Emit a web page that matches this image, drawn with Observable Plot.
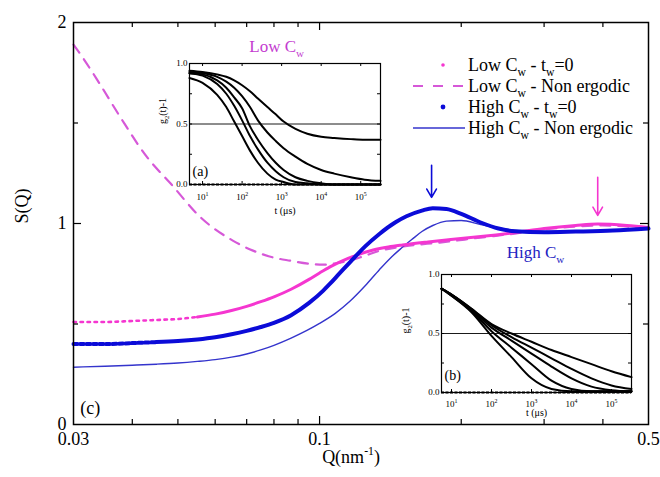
<!DOCTYPE html>
<html><head><meta charset="utf-8">
<script src="https://cdn.jsdelivr.net/npm/d3@7"></script>
<script src="https://cdn.jsdelivr.net/npm/@observablehq/plot@0.6"></script>
<style>
body{margin:0;background:#fff}
#wrap{position:relative;width:660px;height:477px;overflow:hidden;background:#fff}
#wrap svg, #wrap svg text, #wrap svg tspan {font-family:"Liberation Serif","DejaVu Serif",serif !important}
</style>
</head><body><div id="wrap"></div>
<script>
// ---------- main panel (c): S(Q) ----------
const lowT0Q = [0.03,0.035,0.04,0.045,0.05,0.055,0.06,0.065,0.07,0.075,0.08,0.087,0.095,0.1,0.105,0.11,0.12,0.13,0.14,0.15,0.17,0.19,0.22,0.26,0.3,0.35,0.39,0.45,0.5];
const lowT0S = [0.51,0.51,0.515,0.52,0.525,0.535,0.549,0.567,0.588,0.611,0.635,0.673,0.722,0.754,0.783,0.807,0.843,0.868,0.883,0.893,0.908,0.92,0.935,0.955,0.975,0.99,0.997,0.99,0.98];

const lowNeQ = [0.03,0.0315,0.034,0.0377,0.043,0.0482,0.0559,0.0654,0.0722,0.08,0.0866,0.095,0.1017,0.11,0.1159,0.125,0.1344,0.145,0.155,0.18,0.22,0.26,0.3,0.35,0.4,0.45,0.5];
const lowNeS = [1.89,1.82,1.70,1.53,1.33,1.20,1.03,0.915,0.865,0.83,0.815,0.80,0.795,0.805,0.815,0.84,0.865,0.88,0.89,0.905,0.93,0.95,0.97,0.985,0.99,0.985,0.975];

const highT0Q = [0.03,0.035,0.04,0.045,0.05,0.055,0.06,0.065,0.07,0.075,0.08,0.087,0.095,0.1017,0.105,0.11,0.116,0.125,0.134,0.145,0.153,0.165,0.174,0.186,0.2,0.22,0.24,0.26,0.3,0.35,0.42,0.5];
const highT0S = [0.40,0.40,0.405,0.41,0.415,0.423,0.434,0.449,0.466,0.485,0.506,0.544,0.605,0.665,0.698,0.749,0.807,0.886,0.948,1.006,1.036,1.064,1.076,1.072,1.048,1.005,0.975,0.962,0.957,0.96,0.965,0.975];

const highNeQ = [0.03,0.035,0.04,0.045,0.05,0.055,0.06,0.065,0.07,0.075,0.08,0.087,0.094,0.1,0.108,0.116,0.125,0.134,0.141,0.148,0.157,0.165,0.174,0.186,0.2,0.22,0.24,0.26,0.3,0.35,0.42,0.5];
const highNeS = [0.285,0.29,0.295,0.30,0.306,0.314,0.323,0.335,0.351,0.371,0.394,0.43,0.468,0.503,0.553,0.613,0.69,0.77,0.825,0.87,0.92,0.96,0.99,1.012,1.015,0.995,0.978,0.966,0.96,0.962,0.966,0.972];

const xLabelTicks = [0.03, 0.1, 0.5];
const xMinorTicks = [0.04,0.05,0.06,0.07,0.08,0.09,0.2,0.3,0.4];
const xMajorTicks = [0.1];
const yLabelTicks = [0, 1, 2];
const yMinorTicks = [0.5, 1.5];
const yMajorTicks = [1];

const peakArrowBlue = [{q: 0.173, from: 1.29, to: 1.13}];
const peakArrowPink = [{q: 0.39, from: 1.23, to: 1.04}];

const legendLabels = ["Low C_{w} - t_{w}=0", "Low C_{w} - Non ergodic", "High C_{w} - t_{w}=0", "High C_{w} - Non ergodic"];

// ---------- inset (a): Low Cw correlation functions ----------
const tExpA = [0.67,1.0,1.37,1.6,1.8,2.0,2.2,2.4,2.64,2.85,3.05,3.35,3.65,4.0,4.33,4.75,5.1,5.5];
const gA1 = [0.94,0.93,0.91,0.89,0.86,0.82,0.77,0.71,0.64,0.58,0.52,0.46,0.42,0.395,0.385,0.375,0.37,0.37];
const gA2 = [0.93,0.92,0.89,0.85,0.80,0.73,0.64,0.53,0.43,0.36,0.30,0.23,0.17,0.12,0.09,0.06,0.04,0.03];
const gA3 = [0.92,0.91,0.86,0.80,0.72,0.63,0.48,0.37,0.26,0.18,0.12,0.06,0.03,0.01,0.0,0.0,0.0,0.0];
const gA4 = [0.92,0.90,0.83,0.75,0.65,0.53,0.40,0.29,0.18,0.11,0.06,0.02,0.01,0.0,0.0,0.0,0.0,0.0];
const gA5 = [0.88,0.84,0.74,0.64,0.52,0.40,0.28,0.18,0.09,0.04,0.02,0.0,0.0,0.0,0.0,0.0,0.0,0.0];

// ---------- inset (b): High Cw correlation functions ----------
const tExpB = [0.75,1.0,1.5,2.0,2.5,3.0,3.5,4.0,4.5,5.0,5.5];
const gB1 = [0.88,0.82,0.68,0.48,0.30,0.12,0.03,0.01,0.01,0.01,0.01];
const gB2 = [0.88,0.82,0.69,0.52,0.38,0.24,0.10,0.03,0.01,0.01,0.01];
const gB3 = [0.88,0.83,0.70,0.55,0.44,0.33,0.22,0.12,0.05,0.02,0.01];
const gB4 = [0.88,0.83,0.71,0.57,0.47,0.38,0.29,0.20,0.12,0.06,0.03];
const gB5 = [0.88,0.83,0.71,0.58,0.50,0.43,0.36,0.30,0.24,0.18,0.13];

const insetDecades = [10, 100, 1000, 10000, 100000];
const insetYLabels = [0, 0.5, 1];
const insetYTicks = [0.25, 0.5, 0.75];

// ---------- helpers ----------
const FONT = "Liberation Serif, DejaVu Serif, serif";
const PINK = "#f536d0", PINK_DASH = "#d658d8", BLUE = "#0b0bd8", BLUE_THIN = "#3434cc";
const LOW_TXT = "#c43cd0", HIGH_TXT = "#2222c2";

const pts = (qs, ss) => qs.map((q, i) => ({q, s: ss[i]}));
function splitAt(arr, thr) { const k = arr.findIndex(d => d.q >= thr); return [arr.slice(0, k + 1), arr.slice(k)]; }

function richify(root) {
  const ns = "http://www.w3.org/2000/svg";
  root.querySelectorAll("text").forEach(t => {
    const targets = t.querySelector("tspan") ? [...t.querySelectorAll("tspan")] : [t];
    for (const n of targets) {
      const s = n.textContent;
      if (!/[_^]\{/.test(s)) continue;
      n.textContent = "";
      const re = /([_^])\{([^}]*)\}/g;
      let last = 0, m;
      const add = (txt, kind) => {
        const sp = document.createElementNS(ns, "tspan");
        sp.textContent = txt;
        if (kind) {
          sp.setAttribute("font-size", "65%");
          sp.setAttribute("baseline-shift", kind === "_" ? "-0.45em" : "0.65em");
        }
        n.appendChild(sp);
      };
      while ((m = re.exec(s))) { if (m.index > last) add(s.slice(last, m.index)); add(m[2], m[1]); last = re.lastIndex; }
      if (last < s.length) add(s.slice(last));
    }
  });
}

const wrap = document.getElementById("wrap");
const W = 660, H = 477, mL = 73, mR = 12, mT = 22, mB = 53;
const fw = W - mL - mR, fh = H - mT - mB;

const lowT0 = pts(lowT0Q, lowT0S), lowNe = pts(lowNeQ, lowNeS);
const highT0 = pts(highT0Q, highT0S), highNe = pts(highNeQ, highNeS);
const [lowT0a, lowT0b] = splitAt(lowT0, 0.055);
const [highT0a, highT0b] = splitAt(highT0, 0.045);
const cv = "monotone-x";

const main = Plot.plot({
  width: W, height: H, marginLeft: mL, marginRight: mR, marginTop: mT, marginBottom: mB,
  x: {type: "log", domain: [0.03, 0.5]},
  y: {domain: [0, 2]},
  style: {fontFamily: FONT, fontSize: "18px", background: "white", color: "black", overflow: "visible"},
  marks: [
    Plot.line(lowNe, {x: "q", y: "s", stroke: PINK_DASH, strokeWidth: 2.2, strokeDasharray: "10,8", curve: cv}),
    Plot.line(highNe, {x: "q", y: "s", stroke: BLUE_THIN, strokeWidth: 1.4, curve: cv}),
    Plot.line(lowT0a, {x: "q", y: "s", stroke: PINK, strokeWidth: 2.6, strokeDasharray: "2.5,4.5", curve: cv}),
    Plot.line(lowT0b, {x: "q", y: "s", stroke: PINK, strokeWidth: 3, curve: cv}),
    Plot.line(highT0a, {x: "q", y: "s", stroke: BLUE, strokeWidth: 4, strokeDasharray: "4,2.5", curve: cv}),
    Plot.line(highT0b, {x: "q", y: "s", stroke: BLUE, strokeWidth: 4, curve: cv}),
    Plot.arrow(peakArrowBlue, {x1: "q", x2: "q", y1: "from", y2: "to", stroke: BLUE, strokeWidth: 1.6, headLength: 9, bend: 0}),
    Plot.arrow(peakArrowPink, {x1: "q", x2: "q", y1: "from", y2: "to", stroke: PINK, strokeWidth: 1.6, headLength: 9, bend: 0}),
    // inward ticks on all four sides
    Plot.tickX(xMinorTicks, {x: d => d, insetTop: fh - 5, strokeWidth: 1.2}),
    Plot.tickX(xMinorTicks, {x: d => d, insetBottom: fh - 5, strokeWidth: 1.2}),
    Plot.tickX(xMajorTicks, {x: d => d, insetTop: fh - 8, strokeWidth: 1.2}),
    Plot.tickX(xMajorTicks, {x: d => d, insetBottom: fh - 8, strokeWidth: 1.2}),
    Plot.tickY(yMinorTicks, {y: d => d, insetRight: fw - 5, strokeWidth: 1.2}),
    Plot.tickY(yMinorTicks, {y: d => d, insetLeft: fw - 5, strokeWidth: 1.2}),
    Plot.tickY(yMajorTicks, {y: d => d, insetRight: fw - 8, strokeWidth: 1.2}),
    Plot.tickY(yMajorTicks, {y: d => d, insetLeft: fw - 8, strokeWidth: 1.2}),
    Plot.frame({stroke: "black", strokeWidth: 1.5}),
    Plot.axisX(xLabelTicks, {tickSize: 0, tickPadding: 8, tickFormat: d => String(d), label: null, fontSize: 18}),
    Plot.axisY(yLabelTicks, {tickSize: 0, tickPadding: 7, tickFormat: d => String(d), label: null, fontSize: 18}),
    Plot.text(["S(Q)"], {frameAnchor: "left", dx: -51, rotate: -90, fontSize: 18}),
    Plot.text(["Q(nm^{-1})"], {frameAnchor: "bottom", dx: -10, dy: 38, fontSize: 18}),
    Plot.text([{q: 0.0709, s: 1.88, label: "Low C_{w}"}], {x: "q", y: "s", text: "label", textAnchor: "start", fill: LOW_TXT, fontSize: 17}),
    Plot.text([{q: 0.2876, s: 0.856, label: "High C_{w}"}], {x: "q", y: "s", text: "label", textAnchor: "middle", fill: HIGH_TXT, fontSize: 17}),
    Plot.text([{q: 0.0310, s: 0.08, label: "(c)"}], {x: "q", y: "s", text: "label", textAnchor: "start", fontSize: 18})
  ]
});
main.style.position = "absolute"; main.style.left = "0px"; main.style.top = "0px";
wrap.appendChild(main);

// ---------- insets ----------
function curves(tExp, series) {
  return series.flatMap((gs, id) => gs.map((g, i) => ({id, t: 10 ** tExp[i], g})));
}
function inset({left, top, width, height, margins, domain, data, label, ylabDx, xlabDy, tickPad, labelDy}) {
  const [mt, mr, mb, ml] = margins;
  const iw = width - ml - mr, ih = height - mt - mb;
  const p = Plot.plot({
    width, height, marginTop: mt, marginRight: mr, marginBottom: mb, marginLeft: ml,
    x: {type: "log", domain},
    y: {domain: [0, 1]},
    style: {fontFamily: FONT, fontSize: "9px", background: "transparent", color: "black", overflow: "visible"},
    marks: [
      Plot.frame({fill: "white"}),
      Plot.ruleY([0.5], {stroke: "black", strokeWidth: 0.9}),
      Plot.ruleY([0], {stroke: "black", strokeWidth: 2, strokeDasharray: "3,1.5"}),
      Plot.line(data, {x: "t", y: "g", z: "id", stroke: "black", strokeWidth: 2, curve: "monotone-x"}),
      Plot.tickX(insetDecades, {x: d => d, insetTop: ih - 3}),
      Plot.tickX(insetDecades, {x: d => d, insetBottom: ih - 3}),
      Plot.tickY(insetYTicks, {y: d => d, insetRight: iw - 3}),
      Plot.tickY(insetYTicks, {y: d => d, insetLeft: iw - 3}),
      Plot.frame({stroke: "black", strokeWidth: 1.2}),
      Plot.axisX(insetDecades, {tickSize: 0, tickPadding: tickPad, tickFormat: d => `10^{${Math.round(Math.log10(d))}}`, label: null, fontSize: 9}),
      Plot.axisY(insetYLabels, {tickSize: 0, tickPadding: 2, tickFormat: d => d.toFixed(1), label: null, fontSize: 9}),
      Plot.text(["t (μs)"], {frameAnchor: "bottom", dy: xlabDy, fontSize: 10}),
      Plot.text(["g_{2}(t)-1"], {frameAnchor: "left", dx: ylabDx, rotate: -90, fontSize: 10}),
      Plot.text([label], {frameAnchor: "bottom-left", dx: 3, dy: labelDy, textAnchor: "start", fontSize: 14})
    ]
  });
  p.style.position = "absolute"; p.style.left = left + "px"; p.style.top = top + "px";
  return p;
}

const insA = inset({left: 150, top: 52, width: 240, height: 170, margins: [11, 10, 38, 39],
  domain: [10 ** 0.67, 10 ** 5.5], data: curves(tExpA, [gA1, gA2, gA3, gA4, gA5]),
  label: "(a)", ylabDx: -27, xlabDy: 29, tickPad: 9, labelDy: -9});
const insB = inset({left: 390, top: 262, width: 250, height: 165, margins: [12, 9, 35, 51],
  domain: [10 ** 0.75, 10 ** 5.5], data: curves(tExpB, [gB1, gB2, gB3, gB4, gB5]),
  label: "(b)", ylabDx: -36, xlabDy: 23, tickPad: 8, labelDy: -13});
wrap.appendChild(insA);
wrap.appendChild(insB);

// ---------- legend ----------
const leg = d3.create("svg").attr("width", W).attr("height", H)
  .style("position", "absolute").style("left", "0px").style("top", "0px")
  .attr("font-family", FONT).attr("font-size", 18);
const legendKinds = [
  {kind: "dot", color: PINK, r: 1.8},
  {kind: "dash", color: PINK_DASH},
  {kind: "dot", color: BLUE, r: 2.4},
  {kind: "line", color: BLUE_THIN}
];
legendLabels.forEach((lab, i) => {
  const y = 65 + i * 21;
  const k = legendKinds[i];
  if (k.kind === "dot") leg.append("circle").attr("cx", 443).attr("cy", y).attr("r", k.r).attr("fill", k.color);
  else leg.append("line").attr("x1", 413).attr("x2", 465).attr("y1", y).attr("y2", y)
    .attr("stroke", k.color).attr("stroke-width", k.kind === "dash" ? 2 : 1.4)
    .attr("stroke-dasharray", k.kind === "dash" ? "10,10" : null);
  leg.append("text").attr("x", 468).attr("y", y).attr("dy", "0.32em").attr("fill", "black").text(lab);
});
wrap.appendChild(leg.node());

[main, insA, insB, leg.node()].forEach(richify);
</script>
</body></html>
